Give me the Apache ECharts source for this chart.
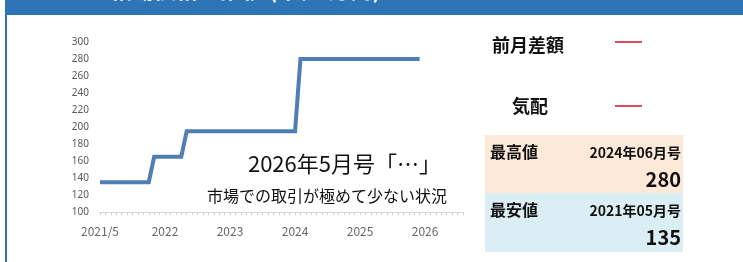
<!DOCTYPE html>
<html>
<head>
<meta charset="utf-8">
<script src="https://cdn.jsdelivr.net/npm/echarts@6/dist/echarts.min.js"></script>
<style>
  html, body { margin: 0; padding: 0; background: #fff; }
  #chart { width: 743px; height: 262px; }
</style>
</head>
<body>
<div id="chart"></div>
<script>
// months on the x axis (2021/5 .. 2026/12)
var months = [
  '2021/5','2021/6','2021/7','2021/8','2021/9','2021/10','2021/11','2021/12',
  '2022/1','2022/2','2022/3','2022/4','2022/5','2022/6','2022/7','2022/8','2022/9','2022/10','2022/11','2022/12',
  '2023/1','2023/2','2023/3','2023/4','2023/5','2023/6','2023/7','2023/8','2023/9','2023/10','2023/11','2023/12',
  '2024/1','2024/2','2024/3','2024/4','2024/5','2024/6','2024/7','2024/8','2024/9','2024/10','2024/11','2024/12',
  '2025/1','2025/2','2025/3','2025/4','2025/5','2025/6','2025/7','2025/8','2025/9','2025/10','2025/11','2025/12',
  '2026/1','2026/2','2026/3','2026/4','2026/5','2026/6','2026/7','2026/8','2026/9','2026/10','2026/11','2026/12'
];
// price per month
var prices = [
  135,135,135,135,135,135,135,135,135,135,
  165,165,165,165,165,165,
  195,195,195,195,195,195,195,195,195,195,195,195,195,195,195,195,195,195,195,195,195,
  280,280,280,280,280,280,280,280,280,280,280,280,280,280,280,280,280,280,280,280,280,280,280
];
var xTickLabels = ['2021/5', '2022', '2023', '2024', '2025', '2026'];
var yMin = 100, yMax = 300, yStep = 20;

var headTitle = '相場価格の推移 (単位:万円)';
var noteTitle = '2026年5月号「…」';
var noteText = '市場での取引が極めて少ない状況';
var diffLabel = '前月差額', diffValue = '—';
var moodLabel = '気配', moodValue = '—';
var highLabel = '最高値', highMonth = '2024年06月号', highValue = '280';
var lowLabel = '最安値', lowMonth = '2021年05月号', lowValue = '135';

var jp = '"Noto Sans CJK JP", "Noto Sans", sans-serif';

var chart = echarts.init(document.getElementById('chart'));
var option = {
  backgroundColor: '#ffffff',
  animation: false,
  grid: { left: 100, right: 280, top: 42, bottom: 50 },
  xAxis: {
    type: 'category',
    data: months,
    boundaryGap: false,
    axisLine: { lineStyle: { color: '#d9d9d9', width: 1 } },
    axisTick: { show: true, interval: 0, length: 3, lineStyle: { color: '#d0d0d0' } },
    axisLabel: {
      interval: function (i) { return i % 12 === 0; },
      formatter: function (v, i) { return xTickLabels[i / 12]; },
      color: '#666666',
      fontSize: 12,
      fontFamily: jp,
      margin: 13
    },
    splitLine: { show: false }
  },
  yAxis: {
    type: 'value',
    min: yMin,
    max: yMax,
    interval: yStep,
    axisLine: { show: false },
    axisTick: { show: false },
    splitLine: { show: false },
    axisLabel: { color: '#595959', fontSize: 10, margin: 11, fontFamily: '"Noto Sans", sans-serif' }
  },
  series: [
    {
      type: 'line',
      data: prices,
      showSymbol: false,
      lineStyle: { color: '#4f7db5', width: 4, cap: 'butt', join: 'miter' }
    }
  ],
  graphic: [
    // header band and left border
    { type: 'rect', shape: { x: 5, y: 0, width: 738, height: 15 }, style: { fill: '#2e75b6' }, z: 10 },
    { type: 'rect', shape: { x: 5, y: 0, width: 2, height: 262 }, style: { fill: '#2e75b6' }, z: 10 },
    { type: 'text', x: 110, y: 1, style: { text: headTitle, fill: '#ffffff', font: 'bold 22px ' + jp, textVerticalAlign: 'bottom' }, z: 11 },
    // annotation
    { type: 'text', x: 441, y: 164, style: { text: noteTitle, fill: '#111', font: '22px ' + jp, textAlign: 'right', textVerticalAlign: 'middle' }, z: 5 },
    { type: 'text', x: 447, y: 196, style: { text: noteText, fill: '#111', font: '16px ' + jp, textAlign: 'right', textVerticalAlign: 'middle' }, z: 5 },
    // right panel
    { type: 'text', x: 492, y: 45, style: { text: diffLabel, fill: '#111', font: 'bold 18px ' + jp, textVerticalAlign: 'middle' } },
    { type: 'line', shape: { x1: 615, y1: 42, x2: 642, y2: 42 }, style: { stroke: '#d4102c', lineWidth: 1.5 } },
    { type: 'text', x: 512, y: 106, style: { text: moodLabel, fill: '#111', font: 'bold 18px ' + jp, textVerticalAlign: 'middle' } },
    { type: 'line', shape: { x1: 615, y1: 106, x2: 642, y2: 106 }, style: { stroke: '#d4102c', lineWidth: 1.5 } },
    { type: 'rect', shape: { x: 485, y: 135, width: 198, height: 58 }, style: { fill: '#fde9d9' } },
    { type: 'rect', shape: { x: 485, y: 193, width: 198, height: 59 }, style: { fill: '#daeef3' } },
    { type: 'text', x: 490, y: 152, style: { text: highLabel, fill: '#111', font: 'bold 16px ' + jp, textVerticalAlign: 'middle' } },
    { type: 'text', x: 681, y: 153, style: { text: highMonth, fill: '#111', font: 'bold 14px ' + jp, textAlign: 'right', textVerticalAlign: 'middle' } },
    { type: 'text', x: 681, y: 179, style: { text: highValue, fill: '#111', font: 'bold 20px ' + jp, textAlign: 'right', textVerticalAlign: 'middle' } },
    { type: 'text', x: 490, y: 210, style: { text: lowLabel, fill: '#111', font: 'bold 16px ' + jp, textVerticalAlign: 'middle' } },
    { type: 'text', x: 681, y: 211, style: { text: lowMonth, fill: '#111', font: 'bold 14px ' + jp, textAlign: 'right', textVerticalAlign: 'middle' } },
    { type: 'text', x: 681, y: 237, style: { text: lowValue, fill: '#111', font: 'bold 20px ' + jp, textAlign: 'right', textVerticalAlign: 'middle' } }
  ]
};
chart.setOption(option);
</script>
</body>
</html>
